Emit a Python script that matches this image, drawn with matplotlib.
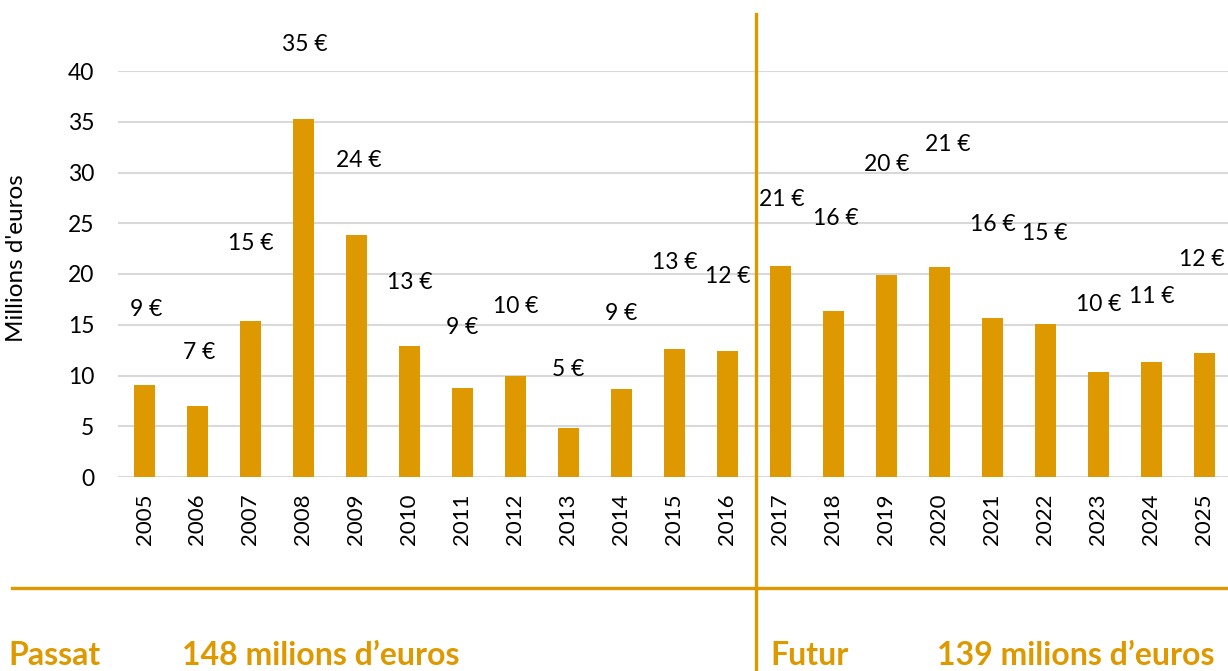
import matplotlib.pyplot as plt
from matplotlib.lines import Line2D
from matplotlib.transforms import blended_transform_factory

plt.rcParams['font.family'] = ['Lato', 'DejaVu Sans']

years = [str(y) for y in range(2005, 2026)]
values = [9.1, 7.0, 15.4, 35.3, 23.8, 12.9, 8.8, 10.0, 4.8, 8.7, 12.6, 12.4,
          20.8, 16.4, 19.9, 20.7, 15.7, 15.1, 10.3, 11.3, 12.2]
yticks = [0, 5, 10, 15, 20, 25, 30, 35, 40]
past_label = 'Passat'
past_total = '148 milions d\u2019euros'
future_label = 'Futur'
future_total = '139 milions d\u2019euros'

gold = '#DE9900'

fig = plt.figure(figsize=(12.28, 6.71), dpi=100)
ax = fig.add_axes([118 / 1228, 194 / 671, 1113 / 1228, 406 / 671])

x = list(range(len(years)))
ax.bar(x, values, width=0.4, color=gold, zorder=3)
ax.set_xlim(-0.5, len(years) - 0.5)
ax.set_ylim(0, 40)
ax.set_yticks(yticks)
ax.set_xticks(x)
ax.set_xticklabels(years, rotation=90, fontsize=16)
ax.tick_params(axis='y', labelsize=16.5, length=0, pad=17)
ax.tick_params(axis='x', length=0, pad=12)
ax.grid(axis='y', color='#D9D9D9', linewidth=1.5, zorder=0)
for s in ax.spines.values():
    s.set_visible(False)
ax.set_ylabel('Millions d\'euros', fontsize=17.5)
ax.yaxis.set_label_coords(-0.082, 0.54)

# data labels, scattered like the original
label_pos = [16.55, 12.3, 23.05, 42.6, 31.2, 19.2, 14.7, 16.8, 10.6, 16.1, 21.1,
             19.8, 27.3, 25.5, 30.8, 32.8, 24.9, 24.0, 17.0, 17.8, 21.4]
label_dx = [0.04, 0.03, 0, 0.02, 0.04, 0, 0, 0, 0, 0, 0, 0, 0.03, 0.04, 0,
            0.16, 0, -0.02, 0, 0, -0.06]
for i, v in enumerate(values):
    ax.text(i + label_dx[i], label_pos[i], f'{round(v)} \u20ac', ha='center',
            va='center', fontsize=16.5, clip_on=False, zorder=4)

# separators
tr = blended_transform_factory(ax.transData, fig.transFigure)
fig.add_artist(Line2D([11.54, 11.54], [0, 657 / 671], transform=tr,
                      color=gold, linewidth=2.4))
fig.add_artist(Line2D([12 / 1228, 1], [83 / 671, 83 / 671],
                      transform=fig.transFigure, color=gold, linewidth=2.4))

ty = 6 / 671
fig.text(8 / 1228, ty, past_label, color=gold, fontsize=23, fontweight='bold',
         va='baseline')
fig.text(182 / 1228, ty, past_total, color=gold, fontsize=23,
         fontweight='bold', va='baseline')
fig.text(770 / 1228, ty, future_label, color=gold, fontsize=23,
         fontweight='bold', va='baseline')
fig.text(937 / 1228, ty, future_total, color=gold, fontsize=23,
         fontweight='bold', va='baseline')

fig.savefig('out.png', dpi=100)
